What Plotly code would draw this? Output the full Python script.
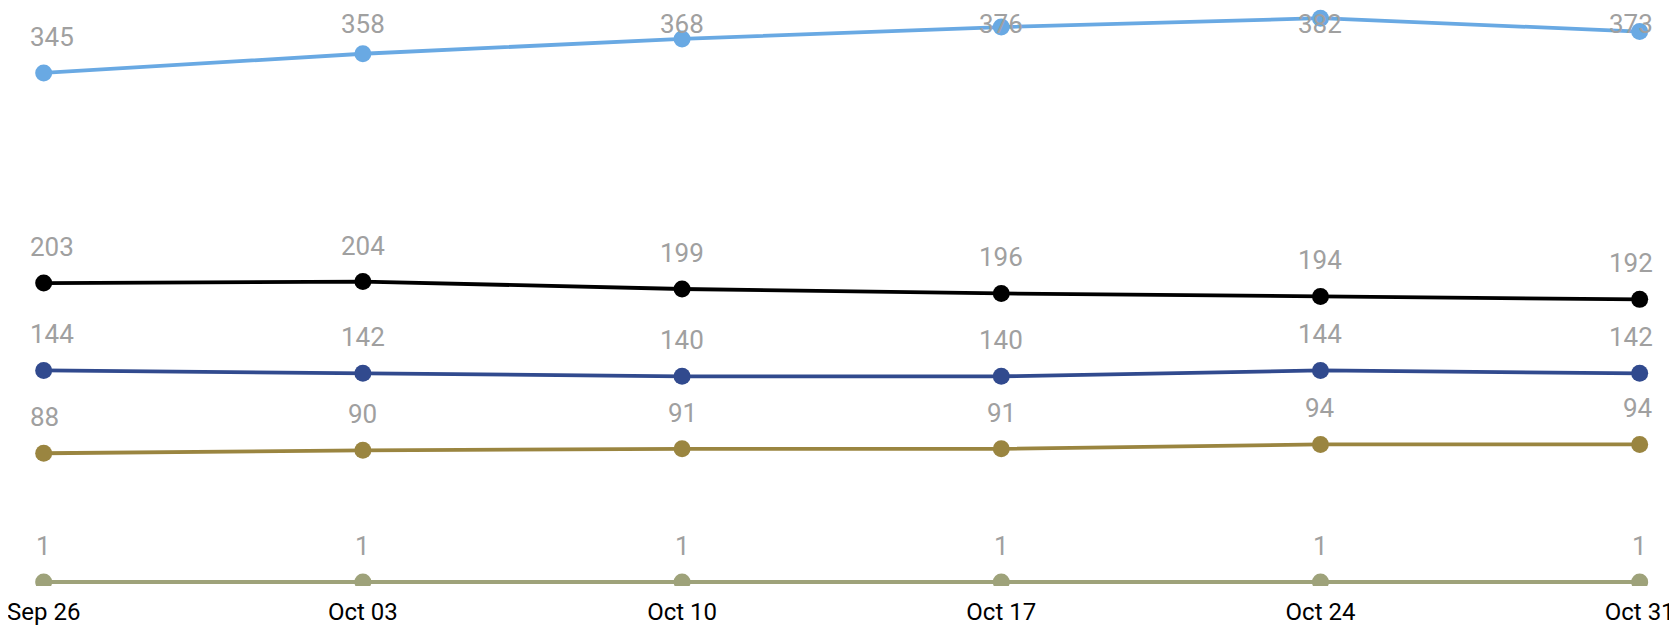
import plotly.graph_objects as go

# ---- data ----
dates = ["Sep 26", "Oct 03", "Oct 10", "Oct 17", "Oct 24", "Oct 31"]
series_a = [345, 358, 368, 376, 382, 373]
series_b = [203, 204, 199, 196, 194, 192]
series_c = [144, 142, 140, 140, 144, 142]
series_d = [88, 90, 91, 91, 94, 94]
series_e = [1, 1, 1, 1, 1, 1]

names = ["Series A", "Series B", "Series C", "Series D", "Series E"]
values = [series_a, series_b, series_c, series_d, series_e]
colors = ["#69A9E3", "#000000", "#314A8E", "#9A8540", "#9EA27A"]

# ---- layout geometry (figure coords; page adds an 8px body margin) ----
W, H = 1677, 626
M_T, M_B = 0, 48
X_RANGE = [-0.1118, 5.1420]
Y_RANGE = [-1.7, 388.9]
PLOT_H = H - M_T - M_B

def px_x(i):
    return (i - X_RANGE[0]) / (X_RANGE[1] - X_RANGE[0]) * W

def px_y(v):
    return M_T + (Y_RANGE[1] - v) / (Y_RANGE[1] - Y_RANGE[0]) * PLOT_H

fig = go.Figure()
for name, vals, col in zip(names, values, colors):
    fig.add_trace(go.Scatter(
        x=dates, y=vals, name=name, mode="lines+markers",
        line=dict(color=col, width=3.8),
        marker=dict(color=col, size=17),
        cliponaxis=True,
    ))

LABEL_OFF = 37
DIGIT_W = 14.6
LEFT_LIM, RIGHT_LIM, TOP_LIM = 22, 1645, 15
annotations = []
for vals in values:
    for i, v in enumerate(vals):
        txt = str(v)
        w = DIGIT_W * len(txt)
        cx = px_x(i)
        xshift = 0.0
        if cx - w / 2 < LEFT_LIM:
            xshift = LEFT_LIM - (cx - w / 2)
        if cx + w / 2 > RIGHT_LIM:
            xshift = RIGHT_LIM - (cx + w / 2)
        cy = px_y(v)
        ly = max(cy - LABEL_OFF, TOP_LIM)
        annotations.append(dict(
            x=dates[i], y=v, xref="x", yref="y", text=txt, showarrow=False,
            xanchor="center", yanchor="middle", xshift=xshift, yshift=(cy - ly) - 1,
            font=dict(family="Roboto", size=26, color="#A0A0A0"),
        ))

fig.update_layout(
    width=W, height=H,
    margin=dict(l=0, r=0, t=M_T, b=M_B, pad=0),
    paper_bgcolor="white", plot_bgcolor="white",
    showlegend=False,
    annotations=annotations,
    xaxis=dict(
        type="category", range=X_RANGE, showgrid=False, zeroline=False,
        showline=False, ticks="", automargin=False, ticklabelstandoff=9,
        tickfont=dict(family="Roboto", size=24, color="#000000"),
    ),
    yaxis=dict(
        range=Y_RANGE, visible=False, showgrid=False, zeroline=False,
        automargin=False,
    ),
)

fig.write_html("out.html")
